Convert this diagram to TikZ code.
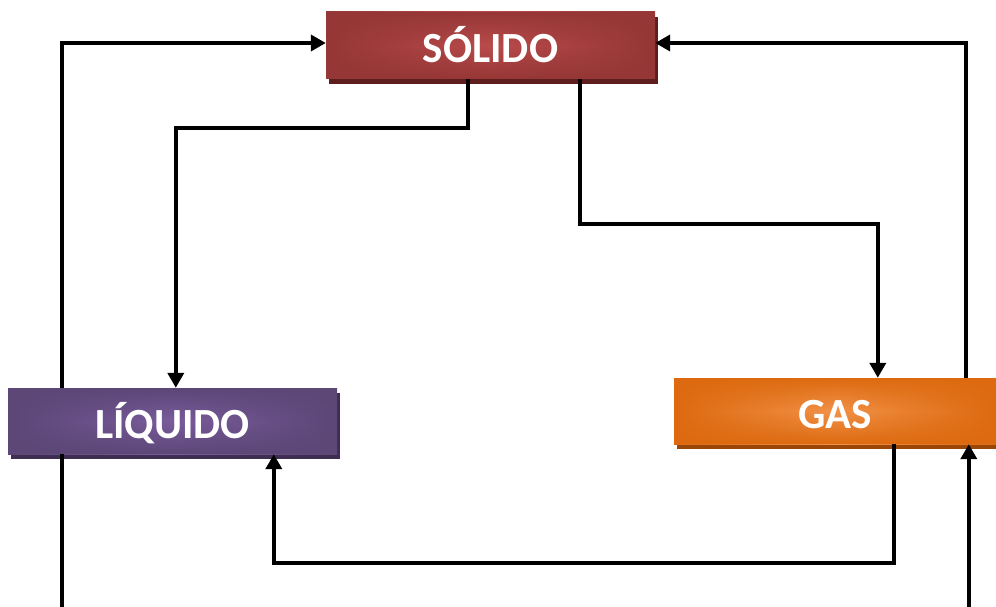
\documentclass[tikz,border=0pt]{standalone}
\usepackage{fontspec}
\setmainfont{Carlito}
\usetikzlibrary{arrows.meta,shadows,fadings}
\definecolor{solE}{HTML}{953736}
\definecolor{solC}{HTML}{BA4B4B}
\definecolor{solS}{HTML}{5E1E1E}
\definecolor{liqE}{HTML}{5C4777}
\definecolor{liqC}{HTML}{7A5C9C}
\definecolor{liqS}{HTML}{3E2F52}
\definecolor{gasE}{HTML}{DD6A10}
\definecolor{gasC}{HTML}{F29248}
\definecolor{gasS}{HTML}{9A4608}
\tikzfading[name=vedge, top color=transparent!0, bottom color=transparent!0, middle color=transparent!100]
\tikzset{
  phase/.style n args={3}{rectangle, inner sep=0pt, minimum height=66pt,
    left color=#1, right color=#1, middle color=#2,
    drop shadow={shadow xshift=2.5pt, shadow yshift=-5pt, fill=#3, opacity=1},
    path picture={\fill[#1, path fading=vedge, fit fading=true]
      (path picture bounding box.south west) rectangle (path picture bounding box.north east);},
    text height=34.5pt, text depth=0pt,
    text=white, font=\fontsize{43}{50}\selectfont\bfseries},
  arr/.style={line width=4pt, -{Triangle[length=15pt,width=16pt]}}
}
\begin{document}
\begin{tikzpicture}[x=1pt,y=-1pt]
\useasboundingbox (0,0) rectangle (996,607);
\node[phase={solE}{solC}{solS}, minimum width=329pt, minimum height=67pt] (sol) at (490.5,45.5) {SÓLIDO};
\node[phase={liqE}{liqC}{liqS}, minimum width=329pt] (liq) at (172.5,421) {LÍQUIDO};
\node[phase={gasE}{gasC}{gasS}, minimum width=322pt] (gas) at (835,411) {GAS};
\draw[arr] ([xshift=142pt]sol.south west) -- ++(0,49) -| ([xshift=168pt]liq.north west);
\draw[arr] ([xshift=254pt]sol.south west) -- ++(0,145) -| ([xshift=204pt]gas.north west);
\draw[arr] ([xshift=292pt]gas.north west) |- ([yshift=2.5pt]sol.east);
\draw[arr] ([xshift=54pt]liq.north west) |- ([yshift=2.5pt]sol.west);
\draw[arr] ([xshift=220pt]gas.south west) -- ++(0,119) -| ([xshift=266pt]liq.south west);
\draw[arr] ([xshift=54pt]liq.south west) -- ++(0,154.8) -| ([xshift=295pt]gas.south west);
\end{tikzpicture}
\end{document}
